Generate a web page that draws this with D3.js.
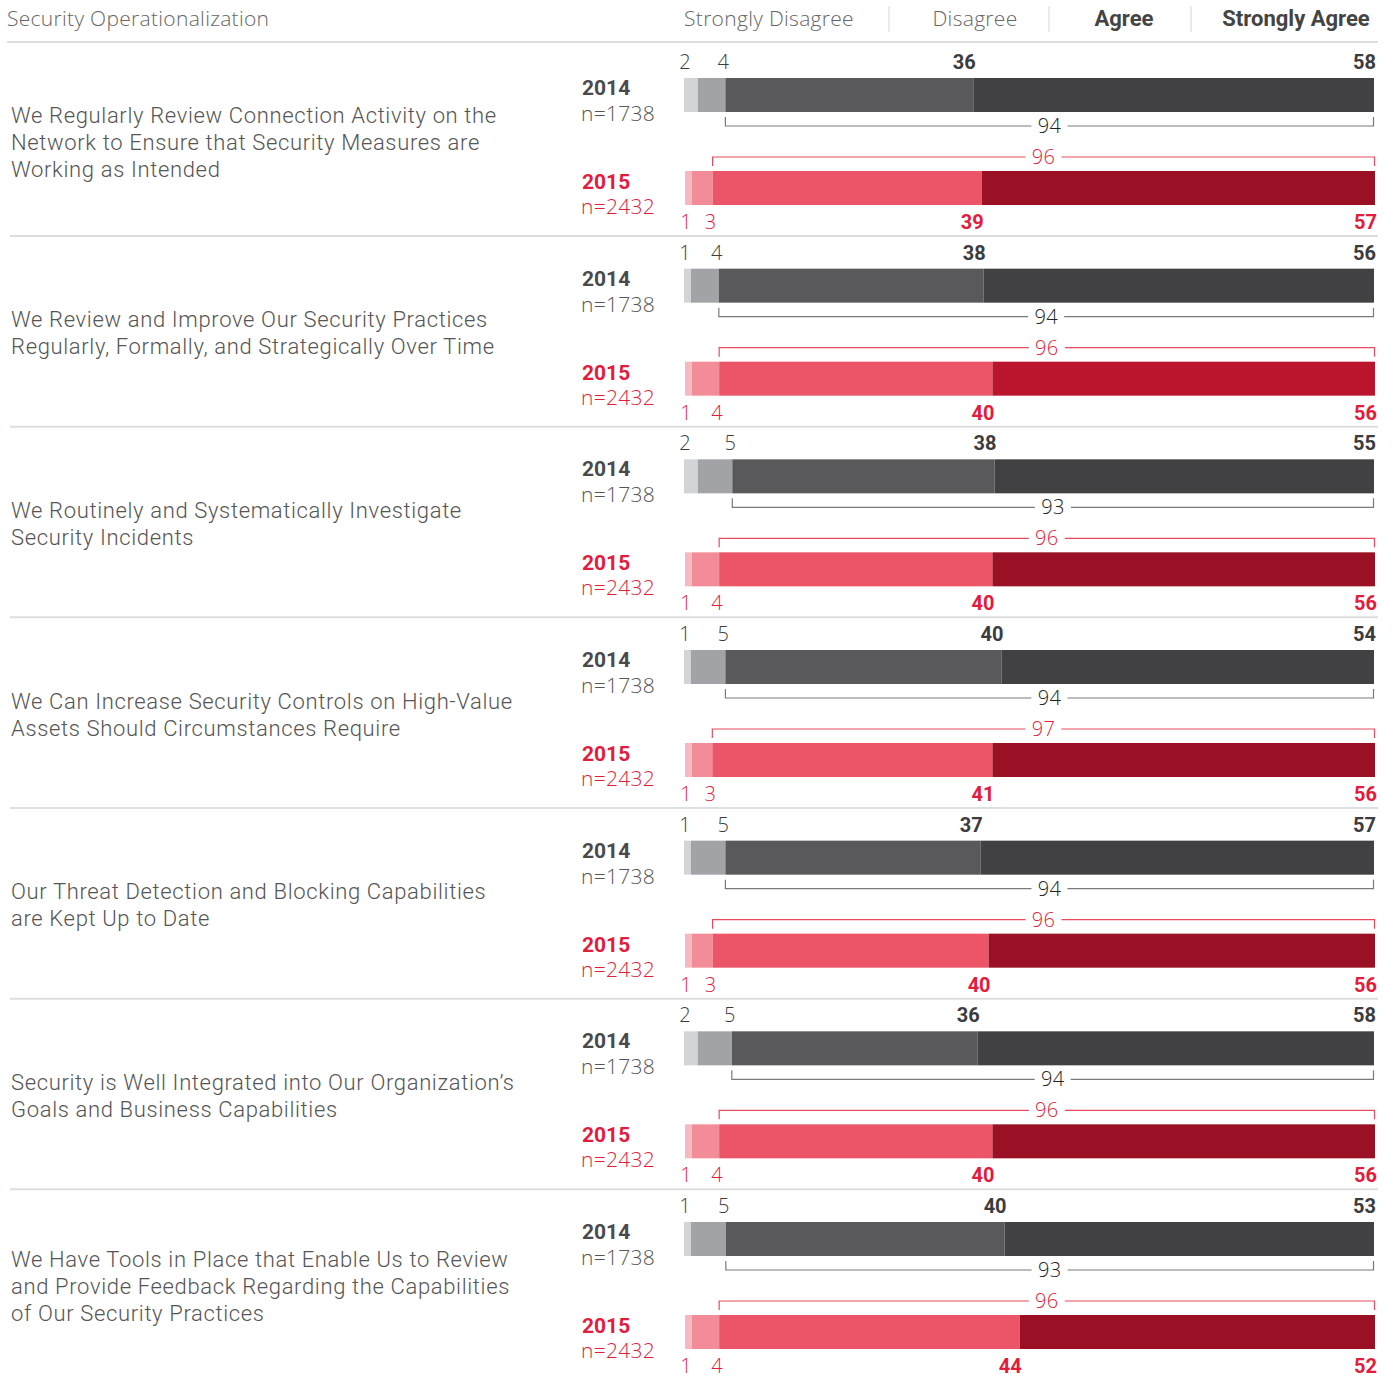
<!DOCTYPE html>
<html>
<head>
<meta charset="utf-8">
<script src="https://cdn.jsdelivr.net/npm/d3@7"></script>
<style>
  html, body { margin: 0; padding: 0; background: #fff; }
  svg { display: block; font-family: Roboto, "Noto Sans", sans-serif; }
  .light { font-family: "Open Sans", Roboto, sans-serif; font-weight: 300; letter-spacing: 0.3px; }
  .statement { font-family: Roboto, "Noto Sans", sans-serif; font-weight: 300; letter-spacing: 0.65px; }
</style>
</head>
<body>
<svg id="chart" width="1393" height="1378"></svg>
<script>
// Survey statements (one entry per row, already broken into display lines)
const statements = [
  ["We Regularly Review Connection Activity on the", "Network to Ensure that Security Measures are", "Working as Intended"],
  ["We Review and Improve Our Security Practices", "Regularly, Formally, and Strategically Over Time"],
  ["We Routinely and Systematically Investigate", "Security Incidents"],
  ["We Can Increase Security Controls on High-Value", "Assets Should Circumstances Require"],
  ["Our Threat Detection and Blocking Capabilities", "are Kept Up to Date"],
  ["Security is Well Integrated into Our Organization\u2019s", "Goals and Business Capabilities"],
  ["We Have Tools in Place that Enable Us to Review", "and Provide Feedback Regarding the Capabilities", "of Our Security Practices"]
];

const responseScale = ["Strongly Disagree", "Disagree", "Agree", "Strongly Agree"];
const years = ["2014", "2015"];
const sampleSizes = ["n=1738", "n=2432"];

// Percentages per statement, 2014
const stronglyDisagree2014 = [2, 1, 2, 1, 1, 2, 1];
const disagree2014         = [4, 4, 5, 5, 5, 5, 5];
const agree2014            = [36, 38, 38, 40, 37, 36, 40];
const stronglyAgree2014    = [58, 56, 55, 54, 57, 58, 53];

// Percentages per statement, 2015
const stronglyDisagree2015 = [1, 1, 1, 1, 1, 1, 1];
const disagree2015         = [3, 4, 4, 3, 3, 4, 4];
const agree2015            = [39, 40, 40, 41, 40, 40, 44];
const stronglyAgree2015    = [57, 56, 56, 56, 56, 56, 52];

// ---- styling ----
const palette = {
  "2014": ["#d1d5d7", "#a2a3a7", "#59595b", "#414042"],
  "2015": ["#f6b9c2", "#f28c98", "#ec5468", "#9a1025"]
};
const accentTopRow = 1;            // row whose 2015 top segment is drawn in the brighter red
const accentRed = "#bb152d";
const textGray = "#555";
const darkText = "#3c3c3e";
const red = "#e31b3d";
const ruleColor = "#dcdfe0";

const svg = d3.select("#chart");

// Header
svg.append("text")
  .attr("class", "light")
  .attr("x", 7).attr("y", 26)
  .attr("font-size", 21).attr("fill", "#666")
  .text("Security Operationalization");

const headerX = d3.scaleOrdinal().domain(responseScale).range([769, 975, 1124, 1296]);
svg.selectAll("text.hdr").data(responseScale).join("text")
  .attr("class", (d, i) => i >= 2 ? "hdr" : "hdr light")
  .attr("x", d => headerX(d)).attr("y", 26)
  .attr("text-anchor", "middle")
  .attr("font-size", (d, i) => i >= 2 ? 22 : 21)
  .attr("font-weight", (d, i) => i >= 2 ? 700 : null)
  .attr("fill", (d, i) => i >= 2 ? "#444" : "#666")
  .text(d => d);

svg.selectAll("line.hdrsep").data([889, 1049, 1191]).join("line")
  .attr("class", "hdrsep")
  .attr("x1", d => d).attr("x2", d => d)
  .attr("y1", 6).attr("y2", 32)
  .attr("stroke", "#dddddd").attr("stroke-width", 1.2);

svg.append("line")
  .attr("x1", 7).attr("x2", 1378).attr("y1", 42).attr("y2", 42)
  .attr("stroke", ruleColor).attr("stroke-width", 2);

// Row layout
const rowIndex = d3.range(statements.length);
const rowY = d3.scaleLinear().domain([0, statements.length - 1]).range([78, 1222]);
const barH = 34;

const rows = rowIndex.map(i => ({
  i,
  lines: statements[i],
  series: [
    { year: "2014", n: sampleSizes[0],
      values: [stronglyDisagree2014[i], disagree2014[i], agree2014[i], stronglyAgree2014[i]] },
    { year: "2015", n: sampleSizes[1],
      values: [stronglyDisagree2015[i], disagree2015[i], agree2015[i], stronglyAgree2015[i]] }
  ]
}));

const g = svg.selectAll("g.row").data(rows).join("g")
  .attr("class", "row")
  .attr("transform", d => `translate(0,${rowY(d.i)})`);

// Separator below each row (except the last)
g.filter(d => d.i < statements.length - 1).append("line")
  .attr("x1", 10).attr("x2", 1378).attr("y1", 158).attr("y2", 158)
  .attr("stroke", ruleColor).attr("stroke-width", 2);

// Statement text
g.each(function(d) {
  const lh = 27;
  const top = 66 - (d.lines.length - 1) * lh / 2;
  const s = d3.select(this);
  d.lines.forEach((ln, k) => {
    s.append("text")
      .attr("class", "statement")
      .attr("font-size", 22).attr("fill", textGray)
      .attr("x", 11).attr("y", top + k * lh + 6).text(ln);
  });
});

// Year / sample labels
g.each(function(d) {
  const s = d3.select(this);
  s.append("text").attr("x", 582).attr("y", 17)
    .attr("font-size", 21).attr("font-weight", 700).attr("fill", "#4a4a4c").text(years[0]);
  s.append("text").attr("class", "light").attr("x", 581).attr("y", 43)
    .attr("font-size", 21).attr("fill", textGray).text(sampleSizes[0]);
  s.append("text").attr("x", 582).attr("y", 111)
    .attr("font-size", 21).attr("font-weight", 700).attr("fill", red).text(years[1]);
  s.append("text").attr("class", "light").attr("x", 581).attr("y", 136)
    .attr("font-size", 21).attr("fill", red).text(sampleSizes[1]);
});

// Stacked bars, labels and agreement brackets
g.each(function(d) {
  const s = d3.select(this);
  d.series.forEach((ser, k) => {
    const yTop = k === 0 ? 0 : 93;
    const total = d3.sum(ser.values);
    const x = d3.scaleLinear().domain([0, total]).range(k === 0 ? [684, 1374] : [685, 1375]);
    const starts = d3.cumsum([0, ...ser.values]);
    const segs = ser.values.map((v, j) => ({ v, j, x0: starts[j], x1: starts[j] + v }));
    const cols = palette[ser.year].slice();
    if (k === 1 && d.i === accentTopRow) cols[3] = accentRed;

    s.selectAll(null).data(segs).join("rect")
      .attr("x", p => x(p.x0)).attr("y", yTop)
      .attr("width", p => x(p.x1) - x(p.x0)).attr("height", barH)
      .attr("fill", p => cols[p.j]);

    // Value labels: above for 2014, below for 2015
    const ly = k === 0 ? -9 : 151;
    const lc = k === 0 ? darkText : red;
    s.selectAll(null).data(segs).join("text")
      .attr("class", p => p.j >= 2 ? null : "light")
      .attr("x", p => p.j === 0 ? x(p.x0) + 1 : (p.j === 1 ? x(p.x1) - 2 : x(p.x1) + 2))
      .attr("y", ly)
      .attr("text-anchor", p => p.j < 2 ? "middle" : "end")
      .attr("font-size", 20)
      .attr("font-weight", p => p.j >= 2 ? 700 : null)
      .attr("fill", lc)
      .text(p => p.v);

    // Bracket spanning Agree + Strongly Agree
    const agreeSum = ser.values[2] + ser.values[3];
    const bx0 = x(starts[2]), bx1 = x(total) - 0.5;
    const by = k === 0 ? 48 : 79;
    const tick = k === 0 ? -9 : 9;
    const bc = k === 0 ? "#7a7a7c" : "#ea4a5e";
    const mid = (bx0 + bx1) / 2;
    const gap = 18;
    s.append("path")
      .attr("d", `M${bx0},${by + tick}V${by}H${mid - gap}M${mid + gap},${by}H${bx1}V${by + tick}`)
      .attr("fill", "none").attr("stroke", bc).attr("stroke-width", 1.2);
    s.append("text")
      .attr("class", "light")
      .attr("x", mid).attr("y", by + 7)
      .attr("text-anchor", "middle")
      .attr("font-size", 20)
      .attr("fill", k === 0 ? "#222" : red)
      .text(agreeSum);
  });
});
</script>
</body>
</html>
